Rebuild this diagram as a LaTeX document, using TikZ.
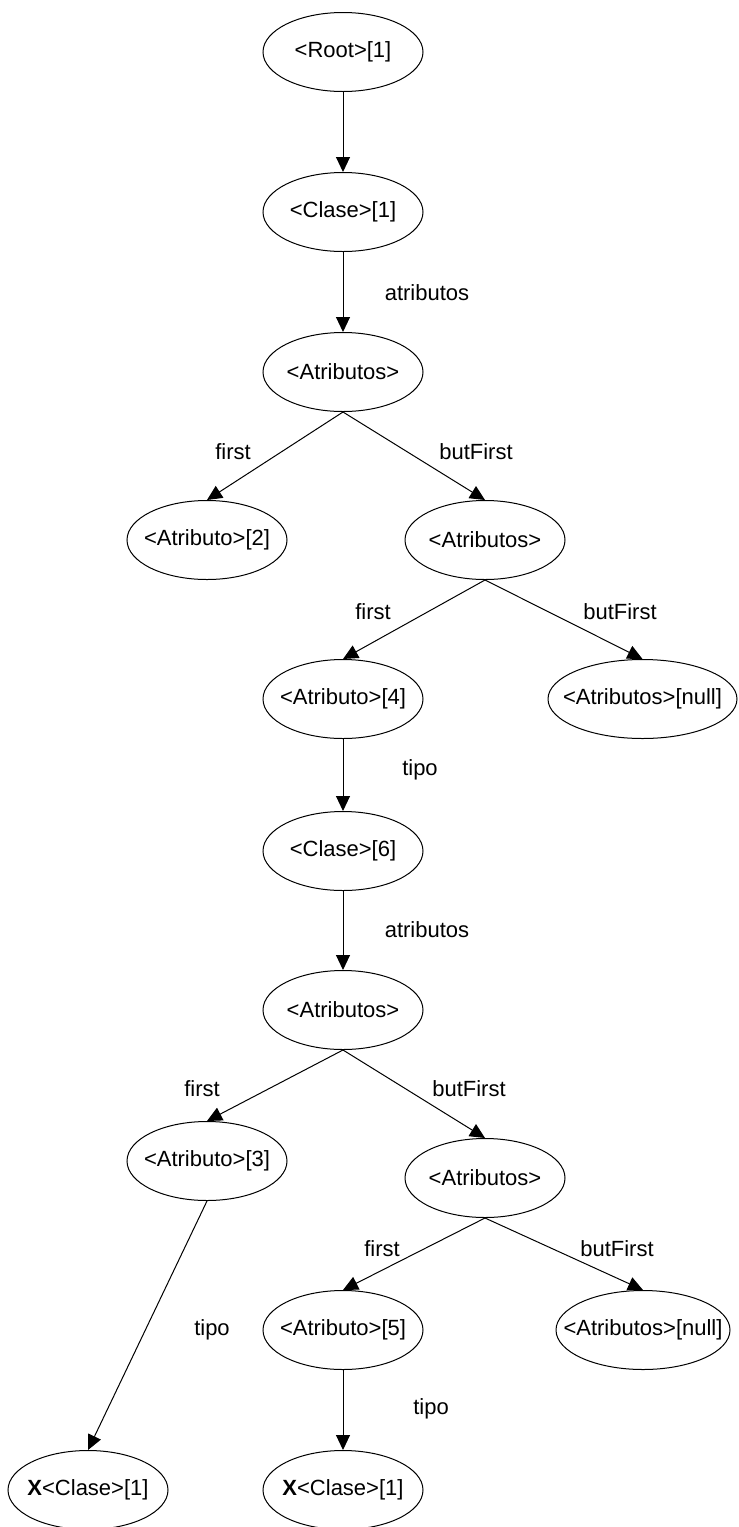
\documentclass[tikz,border=0pt]{standalone}
\usepackage{fontspec}
\setmainfont{Liberation Sans}
\usetikzlibrary{arrows.meta,shapes.geometric}
% zero-width label so every ellipse keeps its fixed size
\newcommand\tagtext[1]{\makebox[0pt]{#1}}

\begin{document}
\begin{tikzpicture}[x=0.5pt,y=-0.5pt,
  every node/.style={font=\fontsize{11}{13}\selectfont},
  term/.style={ellipse,draw,line width=0.5pt,minimum width=80pt,minimum height=39.5pt,inner sep=0pt},
  link/.style={-{Triangle[length=7.5pt,width=7pt]},line width=0.5pt},
  tag/.style={inner sep=0pt}]
\useasboundingbox (0,0) rectangle (739,1527);

% tree nodes
\node[term] (root) at (343,52)   {\tagtext{<Root>[1]}};
\node[term] (c1)   at (343,212)  {\tagtext{<Clase>[1]}};
\node[term] (as1)  at (343,372)  {\tagtext{<Atributos>}};
\node[term] (a2)   at (207,540)  {\tagtext{<Atributo>[2]}};
\node[term] (as2)  at (485,540)  {\tagtext{<Atributos>}};
\node[term] (a4)   at (343,699)  {\tagtext{<Atributo>[4]}};
\node[term,minimum width=94.5pt] (n1) at (642.5,699) {\tagtext{<Atributos>[null]}};
\node[term] (c6)   at (343,851)  {\tagtext{<Clase>[6]}};
\node[term] (as3)  at (343,1010) {\tagtext{<Atributos>}};
\node[term] (a3)   at (207,1161) {\tagtext{<Atributo>[3]}};
\node[term] (as4)  at (485,1178) {\tagtext{<Atributos>}};
\node[term] (a5)   at (343,1330) {\tagtext{<Atributo>[5]}};
\node[term,minimum width=87pt] (n2) at (643,1330) {\tagtext{<Atributos>[null]}};
\node[term] (x1)   at (88,1490)  {\tagtext{\textbf{X}<Clase>[1]}};
\node[term] (x2)   at (343,1490) {\tagtext{\textbf{X}<Clase>[1]}};

% connectors
\draw[link] (root.south) -- (c1.north);
\draw[link] (c1.south)   -- (as1.north);
\draw[link] (as1.south)  -- (a2.north);
\draw[link] (as1.south)  -- (as2.north);
\draw[link] (as2.south)  -- (a4.north);
\draw[link] (as2.south)  -- (n1.north);
\draw[link] (a4.south)   -- (c6.north);
\draw[link] (c6.south)   -- (as3.north);
\draw[link] (as3.south)  -- (a3.north);
\draw[link] (as3.south)  -- (as4.north);
\draw[link] (as4.south)  -- (a5.north);
\draw[link] (as4.south)  -- (n2.north);
\draw[link] (a3.south)   -- (x1.north);
\draw[link] (a5.south)   -- (x2.north);

% connector labels
\node[tag] (t1)  at (427,293)  {atributos};
\node[tag] (t2)  at (233,452)  {first};
\node[tag] (t3)  at (476,452)  {butFirst};
\node[tag] (t4)  at (373,612)  {first};
\node[tag] (t5)  at (620,612)  {butFirst};
\node[tag] (t6)  at (420,770)  {tipo};
\node[tag] (t7)  at (427,930)  {atributos};
\node[tag] (t8)  at (202,1089) {first};
\node[tag] (t9)  at (469,1089) {butFirst};
\node[tag] (t10) at (382,1249) {first};
\node[tag] (t11) at (617,1249) {butFirst};
\node[tag] (t12) at (212,1330) {tipo};
\node[tag] (t13) at (431,1409) {tipo};
\end{tikzpicture}
\end{document}
